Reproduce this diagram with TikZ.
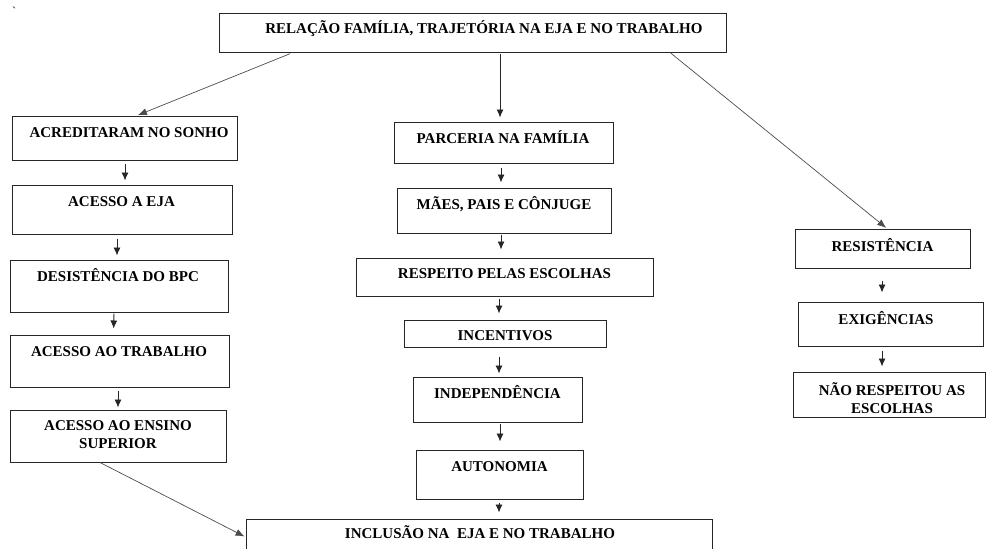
\documentclass[tikz,border=0pt]{standalone}
\usepackage{fontspec}
\setmainfont{Liberation Serif}
\usetikzlibrary{arrows.meta}
\begin{document}
\begin{tikzpicture}[x=1pt,y=-1pt,
  box/.style={draw=black!85,line width=1pt,inner sep=0pt},
  lbl/.style={font=\fontsize{15}{18}\selectfont\bfseries,inner sep=0pt,text height=10.5pt,text depth=0pt},
  lbltwo/.style={font=\fontsize{15}{18}\selectfont\bfseries,inner sep=0pt,align=center},
  arr/.style={draw=black!85,line width=0.9pt,-{Latex[length=8pt,width=7pt]}},
  diag/.style={draw=black!70,line width=0.7pt,-{Latex[length=9pt,width=7pt]}}]
\useasboundingbox (0,0) rectangle (986,549);
\clip (0,0) rectangle (986,549);

% stray mark in the corner
\node[inner sep=0pt,font=\fontsize{12}{12}\selectfont] (mark) at (14,11) {\textasciigrave};

% title
\node[box,minimum width=507,minimum height=39] (top) at (472.5,32.5) {};
\node[lbl] at (484,28) {RELAÇÃO FAMÍLIA, TRAJETÓRIA NA EJA E NO TRABALHO};

% left column
\node[box,minimum width=225,minimum height=44] (a1) at (124.5,138) {};
\node[lbl] at (129,132) {ACREDITARAM NO SONHO};
\node[box,minimum width=220,minimum height=49] (a2) at (122,209.5) {};
\node[lbl] at (121.5,201) {ACESSO A EJA};
\node[box,minimum width=218,minimum height=52] (a3) at (119,286) {};
\node[lbl] at (118,276) {DESISTÊNCIA DO BPC};
\node[box,minimum width=219,minimum height=52] (a4) at (119.5,361) {};
\node[lbl] at (119,351) {ACESSO AO TRABALHO};
\node[box,minimum width=216,minimum height=52] (a5) at (118,436) {};
\node[lbltwo] at (118,435) {ACESSO AO ENSINO\\SUPERIOR};

% middle column
\node[box,minimum width=219,minimum height=41] (m1) at (503.5,142.5) {};
\node[lbl] at (503,138) {PARCERIA NA FAMÍLIA};
\node[box,minimum width=214,minimum height=45] (m2) at (504,210.5) {};
\node[lbl] at (504,204) {MÃES, PAIS E CÔNJUGE};
\node[box,minimum width=297,minimum height=38] (m3) at (504.5,277) {};
\node[lbl] at (504.5,273) {RESPEITO PELAS ESCOLHAS};
\node[box,minimum width=202,minimum height=27] (m4) at (505,333.5) {};
\node[lbl] at (505,335) {INCENTIVOS};
\node[box,minimum width=169,minimum height=45] (m5) at (497.5,399.5) {};
\node[lbl] at (497.5,393) {INDEPENDÊNCIA};
\node[box,minimum width=167,minimum height=49] (m6) at (499.5,474.5) {};
\node[lbl] at (499.5,466) {AUTONOMIA};
\node[box,minimum width=466,minimum height=51] (inc) at (479,544.5) {};
\node[lbl] at (480,533) {INCLUSÃO NA \ EJA E NO TRABALHO};

% right column
\node[box,minimum width=175,minimum height=39] (r1) at (882.5,248.5) {};
\node[lbl] at (882.5,246) {RESISTÊNCIA};
\node[box,minimum width=185,minimum height=44] (r2) at (890.5,324) {};
\node[lbl] at (886,319) {EXIGÊNCIAS};
\node[box,minimum width=192,minimum height=45] (r3) at (889,394.5) {};
\node[lbltwo] at (892,398) {NÃO RESPEITOU AS\\ESCOLHAS};

% branches from the title
\draw[diag,shorten <=3pt,shorten >=1pt] ([xshift=-179.5pt]top.south) -- ([xshift=12.5pt]a1.north);
\draw[arr,shorten <=1pt,shorten >=4pt] ([xshift=27.5pt]top.south) -- ([xshift=-3.5pt]m1.north);
\draw[diag,shorten <=1pt,shorten >=1pt] ([xshift=197.5pt]top.south) -- ([xshift=4.5pt]r1.north);

% left chain
\draw[arr,shorten <=3pt,shorten >=4pt] ([xshift=0.5pt]a1.south) -- ([xshift=3pt]a2.north);
\draw[arr,shorten <=4pt,shorten >=4pt] ([xshift=-5pt]a2.south) -- ([xshift=-2pt]a3.north);
\draw[arr,shorten <=1pt,shorten >=6pt] ([xshift=-5pt]a3.south) -- ([xshift=-6pt]a4.north);
\draw[arr,shorten <=3pt,shorten >=2pt] ([xshift=-1.5pt]a4.south) -- ([xshift=0pt]a5.north);
\draw[diag,shorten <=0pt,shorten >=1pt] ([xshift=-18pt]a5.south) -- ([yshift=7.5pt]inc.west);

% middle chain
\draw[arr,shorten <=4pt,shorten >=5pt] ([xshift=-2.5pt]m1.south) -- ([xshift=-3pt]m2.north);
\draw[arr,shorten <=1pt,shorten >=8pt] ([xshift=-3pt]m2.south) -- ([xshift=-3.5pt]m3.north);
\draw[arr,shorten <=2pt,shorten >=6pt] ([xshift=-5.5pt]m3.south) -- ([xshift=-6pt]m4.north);
\draw[arr,shorten <=9pt,shorten >=3pt] ([xshift=-6pt]m4.south) -- ([xshift=1.5pt]m5.north);
\draw[arr,shorten <=1pt,shorten >=8pt] ([xshift=2.5pt]m5.south) -- ([xshift=0.5pt]m6.north);
\draw[arr,shorten <=3pt,shorten >=6pt] ([xshift=-0.5pt]m6.south) -- ([xshift=20pt]inc.north);

% right chain
\draw[arr,shorten <=12pt,shorten >=9pt] ([xshift=-0.5pt]r1.south) -- ([xshift=-8.5pt]r2.north);
\draw[arr,shorten <=4pt,shorten >=5pt] ([xshift=-8.5pt]r2.south) -- ([xshift=-7pt]r3.north);
\end{tikzpicture}
\end{document}
